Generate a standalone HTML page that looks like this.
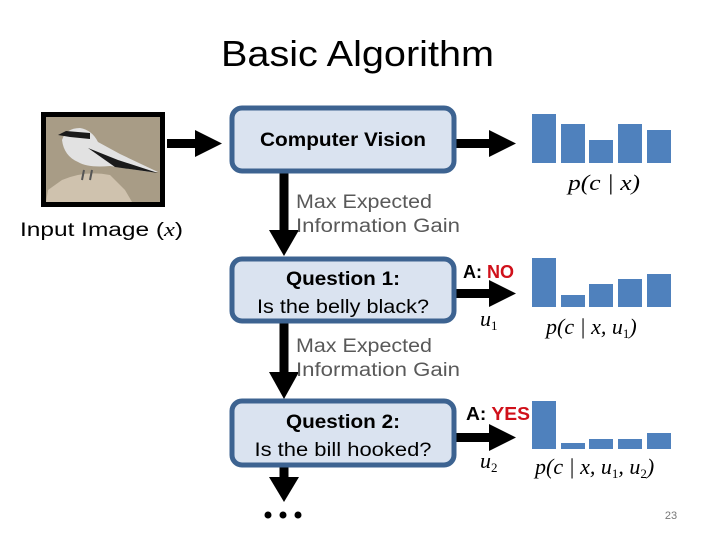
<!DOCTYPE html>
<html><head><style>body{margin:0;background:#fff}svg{display:block}</style></head><body>
<svg width="720" height="540" viewBox="0 0 720 540" xmlns="http://www.w3.org/2000/svg" font-family="Liberation Sans, sans-serif">
<text x="221" y="66" font-size="36" textLength="273" lengthAdjust="spacingAndGlyphs">Basic Algorithm</text>
<!-- image -->
<rect x="41" y="112" width="124" height="95" fill="#000"/>
<rect x="46" y="117" width="114" height="85" fill="#a89c86"/>
<path d="M46 202 L48 190 L62 180 Q85 170 110 175 L125 190 L132 202 Z" fill="#cfc2ae"/>
<path d="M62 140 Q66 128 80 128 Q92 130 98 142 L120 154 L158 172 L150 172 L110 166 Q88 168 78 162 Q64 156 62 140 Z" fill="#e2e2e2"/>
<path d="M58 135 L66 131 L90 133 L90 139 L70 137 Z" fill="#1a1a1a"/>
<path d="M88 148 L118 160 L158 173 L115 167 Z" fill="#1a1a1a"/>
<path d="M84 170 L82 180 M92 170 L90 180" stroke="#555" stroke-width="2"/>
<text x="20" y="236" font-size="19" textLength="163" lengthAdjust="spacingAndGlyphs">Input Image (<tspan font-family="Liberation Serif, serif" font-style="italic">x</tspan>)</text>
<!-- arrows -->
<g fill="#000">
<rect x="167" y="139" width="30" height="9"/><path d="M195 130 L222 143.5 L195 157 Z"/>
<rect x="456" y="139" width="36" height="9"/><path d="M489 130 L516 143.5 L489 157 Z"/>
<rect x="456" y="289" width="36" height="9"/><path d="M489 280 L516 293.5 L489 307 Z"/>
<rect x="456" y="433" width="36" height="9"/><path d="M489 424 L516 437.5 L489 451 Z"/>
<rect x="279.5" y="172" width="9" height="60"/><path d="M269 230 L284 256 L299 230 Z"/>
<rect x="279.5" y="322" width="9" height="52"/><path d="M269 372 L284 399 L299 372 Z"/>
<rect x="279.5" y="467" width="9" height="12"/><path d="M269 477 L284 502 L299 477 Z"/>
<circle cx="268" cy="515" r="3.5"/><circle cx="283" cy="515" r="3.5"/><circle cx="298" cy="515" r="3.5"/>
</g>
<!-- boxes -->
<g fill="#dae3f0" stroke="#3d6391" stroke-width="5">
<rect x="232" y="108" width="222" height="63" rx="10"/>
<rect x="232" y="259" width="222" height="62" rx="10"/>
<rect x="232" y="401" width="222" height="64" rx="10"/>
</g>
<g font-size="19" text-anchor="middle">
<text x="343" y="146" font-weight="bold" textLength="166" lengthAdjust="spacingAndGlyphs">Computer Vision</text>
<text x="343" y="285" font-weight="bold" textLength="114" lengthAdjust="spacingAndGlyphs">Question 1:</text>
<text x="343" y="313" textLength="172" lengthAdjust="spacingAndGlyphs">Is the belly black?</text>
<text x="343" y="428" font-weight="bold" textLength="114" lengthAdjust="spacingAndGlyphs">Question 2:</text>
<text x="343" y="456" textLength="177" lengthAdjust="spacingAndGlyphs">Is the bill hooked?</text>
</g>
<g font-size="19" fill="#595959">
<text x="296" y="208" textLength="136" lengthAdjust="spacingAndGlyphs">Max Expected</text>
<text x="296" y="232" textLength="164" lengthAdjust="spacingAndGlyphs">Information Gain</text>
<text x="296" y="352" textLength="136" lengthAdjust="spacingAndGlyphs">Max Expected</text>
<text x="296" y="376" textLength="164" lengthAdjust="spacingAndGlyphs">Information Gain</text>
</g>
<g font-size="18" font-weight="bold">
<text x="463" y="278">A: <tspan fill="#d0101a">NO</tspan></text>
<text x="466" y="420" textLength="64" lengthAdjust="spacingAndGlyphs">A: <tspan fill="#d0101a">YES</tspan></text>
</g>
<g font-family="Liberation Serif, serif" font-style="italic" font-size="22">
<text x="480" y="326">u<tspan font-size="13" font-style="normal" dy="4">1</tspan></text>
<text x="480" y="468">u<tspan font-size="13" font-style="normal" dy="4">2</tspan></text>
<text x="568" y="190" textLength="72" lengthAdjust="spacingAndGlyphs">p(c | x)</text>
<text x="546" y="334">p(c | x, u<tspan font-size="13" font-style="normal" dy="4">1</tspan><tspan dy="-4">)</tspan></text>
<text x="535" y="474">p(c | x, u<tspan font-size="13" font-style="normal" dy="4">1</tspan><tspan dy="-4">, u</tspan><tspan font-size="13" font-style="normal" dy="4">2</tspan><tspan dy="-4">)</tspan></text>
</g>
<g fill="#4f81bd">
<rect x="532" y="114" width="24" height="49"/><rect x="561" y="124" width="24" height="39"/><rect x="589" y="140" width="24" height="23"/><rect x="618" y="124" width="24" height="39"/><rect x="647" y="130" width="24" height="33"/>
<rect x="532" y="258" width="24" height="49"/><rect x="561" y="295" width="24" height="12"/><rect x="589" y="284" width="24" height="23"/><rect x="618" y="279" width="24" height="28"/><rect x="647" y="274" width="24" height="33"/>
<rect x="532" y="401" width="24" height="48"/><rect x="561" y="443" width="24" height="6"/><rect x="589" y="439" width="24" height="10"/><rect x="618" y="439" width="24" height="10"/><rect x="647" y="433" width="24" height="16"/>
</g>
<text x="671" y="519" font-size="11" fill="#777" text-anchor="middle">23</text>
</svg>
</body></html>
